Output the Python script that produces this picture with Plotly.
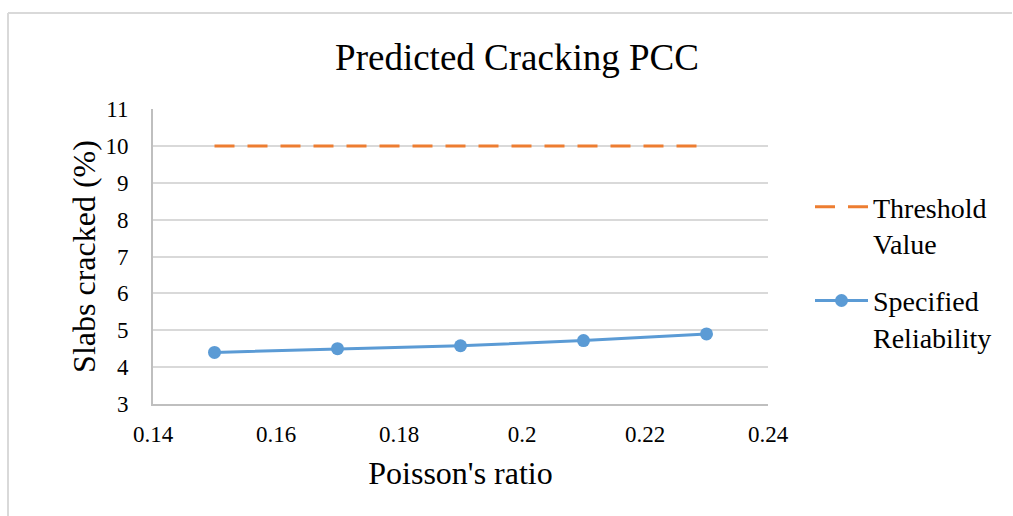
import plotly.graph_objects as go

# Poisson's ratio values and predicted slab cracking
poisson_ratio = [0.15, 0.17, 0.19, 0.21, 0.23]
specified_reliability = [4.4, 4.5, 4.58, 4.72, 4.9]
threshold_value = [10, 10, 10, 10, 10]

x_ticks = [0.14, 0.16, 0.18, 0.20, 0.22, 0.24]
x_tick_labels = ["0.14", "0.16", "0.18", "0.2", "0.22", "0.24"]
y_ticks = [3, 4, 5, 6, 7, 8, 9, 10, 11]

FONT = "Liberation Serif"
W, H = 1013, 516
L, R, T, B = 153, 245, 109, 112
pw, ph = W - L - R, H - T - B

fig = go.Figure()

fig.add_trace(go.Scatter(
    x=poisson_ratio, y=threshold_value, mode="lines",
    name="Threshold<br>Value", legendgroup="threshold",
    line=dict(color="#ED7D31", width=3, dash="20px,13px"),
))
fig.add_trace(go.Scatter(
    x=poisson_ratio, y=specified_reliability, mode="lines+markers",
    name="Specified<br>Reliability", legendgroup="reliability",
    line=dict(color="#5B9BD5", width=3),
    marker=dict(color="#5B9BD5", size=13),
))

# outer chart frame (top and left edges)
fx0 = (8 - L) / pw
fy_top = (H - B - 13) / ph
fy_bot = (H - B - 520) / ph
fx1 = (1012 - L) / pw
frame = dict(color="#D9D9D9", width=2)
fig.add_shape(type="line", xref="paper", yref="paper", x0=fx0, x1=fx1,
              y0=fy_top, y1=fy_top, line=frame)
fig.add_shape(type="line", xref="paper", yref="paper", x0=fx0, x1=fx0,
              y0=fy_top, y1=fy_bot, line=frame)

fig.update_layout(
    width=W, height=H,
    margin=dict(l=L, r=R, t=T, b=B),
    paper_bgcolor="white", plot_bgcolor="white",
    font=dict(family=FONT, color="#000000"),
    title=dict(text="Predicted Cracking PCC", x=(517 - L) / pw, xref="paper",
               xanchor="center", y=1 - 57 / H, yanchor="middle",
               font=dict(size=37, family=FONT, color="#000000")),
    xaxis=dict(
        range=[0.14, 0.24], tickvals=x_ticks, ticktext=x_tick_labels,
        showgrid=False, zeroline=False,
        showline=True, linecolor="#BFBFBF", linewidth=2,
        ticks="", tickfont=dict(size=23, family=FONT), ticklabelstandoff=8,
        title=dict(text="Poisson's ratio", font=dict(size=32, family=FONT), standoff=16),
    ),
    yaxis=dict(
        range=[3, 11], tickvals=y_ticks,
        showgrid=True, gridcolor="#D9D9D9", gridwidth=1.5,
        zeroline=False,
        showline=True, linecolor="#BFBFBF", linewidth=2,
        ticks="", tickfont=dict(size=23, family=FONT), ticklabelstandoff=18,
        title=dict(text="Slabs cracked (%)", font=dict(size=32, family=FONT), standoff=0),
    ),
    legend=dict(
        x=(810 - L) / pw, xanchor="left",
        y=(H - B - 182) / ph, yanchor="top", valign="top",
        font=dict(size=28, family=FONT), tracegroupgap=18,
        bgcolor="rgba(0,0,0,0)", itemwidth=53,
    ),
    showlegend=True,
)

fig.write_html("out.html")
